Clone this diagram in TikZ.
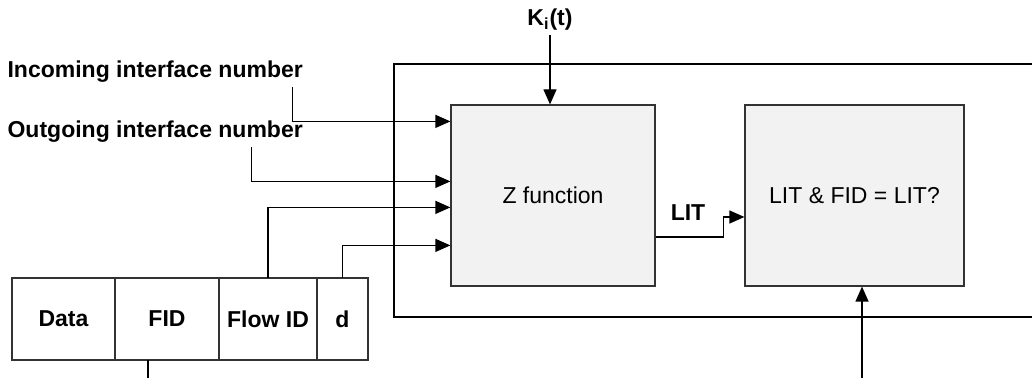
\documentclass[tikz,border=0pt]{standalone}
\usepackage{fontspec}
\setmainfont{Liberation Sans}
\usetikzlibrary{positioning,arrows.meta}

\begin{document}
\begin{tikzpicture}[
  x=0.5pt, y=-0.5pt,
  line width=0.6pt,
  fn/.style={draw=black!80, fill=black!5, minimum height=90.5pt,
             font=\fontsize{11.5}{14}\selectfont},
  cell/.style={draw=black!80, minimum height=41pt, outer sep=0pt,
               font=\fontsize{11.5}{14}\selectfont\bfseries},
  lbl/.style={inner sep=2pt, font=\fontsize{11.5}{14}\selectfont\bfseries},
  arrow/.style={-{Triangle[length=7.5pt,width=6.5pt]}}
]
\useasboundingbox (0,0) rectangle (1032,378);

% frame, open to the right
\coordinate (frTR) at (1032,64);
\coordinate (frBL) at (394,317);
\draw (frTR) -| (frBL) -- (frBL -| frTR);

% function blocks
\node[fn, minimum width=102pt] (zf) at (553,195.5) {Z function};
\node[fn, minimum width=109.5pt] (lit) at (854.5,195.5) {LIT \& FID = LIT?};

% packet
\node[cell, minimum width=51.5pt] (data) at (63.5,319) {Data};
\node[cell, minimum width=52pt, right=0pt of data] (fid) {FID};
\node[cell, minimum width=49pt, right=0pt of fid] (flow) {Flow ID};
\node[cell, minimum width=25.5pt, right=0pt of flow] (dd) {d};

% labels
\node[lbl, anchor=west] (inc) at (3,72) {Incoming interface number};
\node[lbl, anchor=west] (out) at (3,132) {Outgoing interface number};
\node[lbl] (ki) at (550,20) {K\textsubscript{i}(t)};
\node[lbl] (litlbl) at (688,213) {LIT};

% inputs to Z
\draw[arrow] ([xshift=-7.5pt]inc.south east) |- ([yshift=-8.5pt]zf.north west);
\draw[arrow] ([xshift=-28pt]out.south east) |- ([yshift=-38.5pt]zf.north west);
\draw[arrow] (flow.north) |- ([yshift=-51.5pt]zf.north west);
\draw[arrow] (dd.north) |- ([yshift=-70.5pt]zf.north west);
\draw[arrow] (ki.south) -- (ki.south |- zf.north);

% Z to check
\draw[arrow] ([yshift=-20.75pt]zf.east) -- ++(68,0) |- ([yshift=-10.75pt]lit.west);

% FID out, check input
\draw ([xshift=-9.5pt]fid.south) -- ++(0,18);
\coordinate (chk) at (862,378);
\draw[arrow] (chk) -- (chk |- lit.south);
\end{tikzpicture}
\end{document}
